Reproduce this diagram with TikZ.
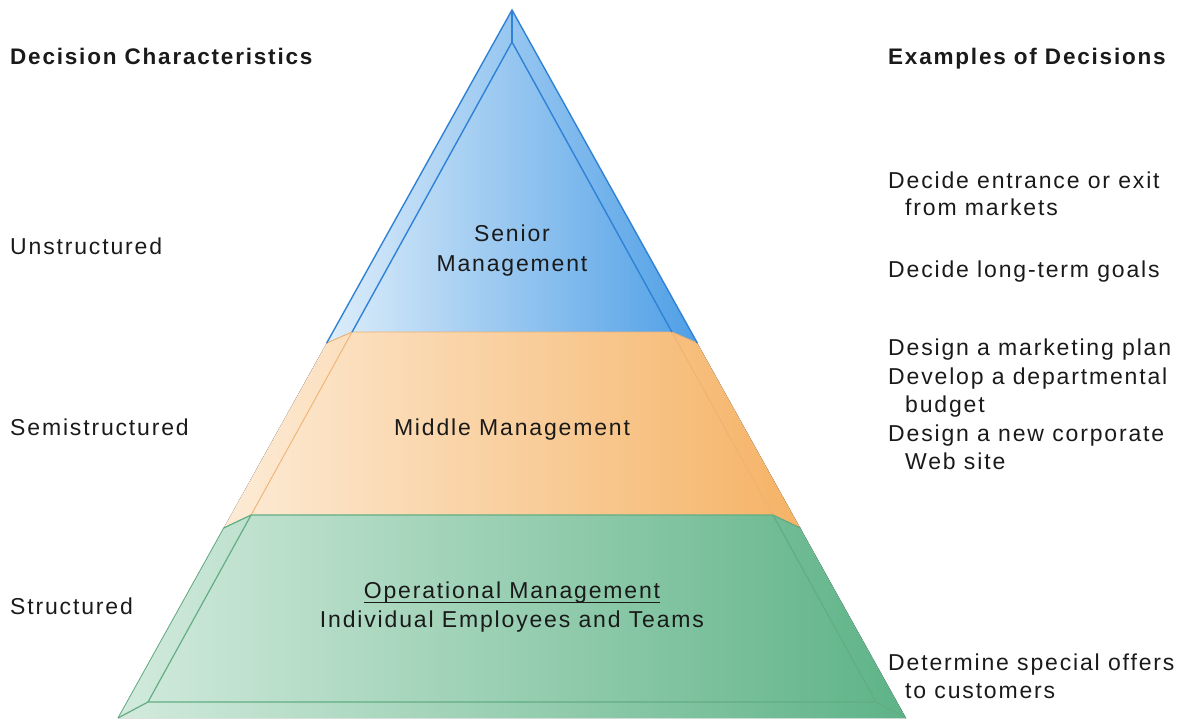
\documentclass[tikz,border=0pt]{standalone}
\usepackage{fontspec}
\setmainfont{Liberation Sans}[LetterSpace=8]
\definecolor{blueL}{HTML}{DDEDFA}
\definecolor{blueR}{HTML}{4F9FE6}
\definecolor{blueLine}{HTML}{2F82D6}
\definecolor{orL}{HTML}{FDEBD6}
\definecolor{orR}{HTML}{F5B366}
\definecolor{orLine}{HTML}{EFB273}
\definecolor{grL}{HTML}{D2EADC}
\definecolor{grR}{HTML}{5EB387}
\definecolor{grLine}{HTML}{62AD84}
\definecolor{ink}{HTML}{1A1A1A}
\tikzset{
  txt/.style={inner sep=0pt, anchor=base west, text=ink, font=\fontsize{23}{29}\selectfont},
  ctxt/.style={txt, anchor=base},
  head/.style={txt, font=\fontsize{22.5}{29}\selectfont\bfseries},
  bluetier/.style={left color=blueL, right color=blueR, draw=none},
  ortier/.style={left color=orL, right color=orR, draw=none},
  grtier/.style={left color=grL, right color=grR, draw=none},
  blueedge/.style={draw=blueLine, line width=1.4pt},
  oredge/.style={draw=orLine, line width=0.9pt},
  gredge/.style={draw=grLine, line width=1.2pt}
}
\begin{document}
\begin{tikzpicture}[x=1pt,y=-1pt]
\useasboundingbox (0,0) rectangle (1182,720);
% key points
\coordinate (A) at (512,10);
\coordinate (a) at (512,42);
\coordinate (o1l) at (326.7,343);
\coordinate (o1r) at (697.3,343);
\coordinate (i1l) at (352.1,332);
\coordinate (i1r) at (671.9,332);
\coordinate (o2l) at (223.7,528);
\coordinate (o2r) at (800.3,528);
\coordinate (i2l) at (251.1,515);
\coordinate (i2r) at (772.9,515);
\coordinate (o3l) at (118,718);
\coordinate (o3r) at (906,718);
\coordinate (i3l) at (148,702);
\coordinate (i3r) at (876,702);
% tiers
\fill[bluetier] (A) -- (o1l) -- (i1l) -- (i1r) -- (o1r) -- cycle;
\fill[ortier] (o1l) -- (i1l) -- (i1r) -- (o1r) -- (o2r) -- (i2r) -- (i2l) -- (o2l) -- cycle;
\fill[grtier] (o2l) -- (i2l) -- (i2r) -- (o2r) -- (o3r) -- (o3l) -- cycle;
% edges
\draw[oredge] (i1l) -- (i2l);
\draw[oredge] (i1r) -- (i2r);
\draw[oredge] (o1l) -- (i1l) -- (i1r) -- (o1r);
\draw[gredge] (o2l) -- (i2l) -- (i2r) -- (o2r);
\draw[gredge] (i2l) -- (i3l) -- (i3r) -- (i2r);
\draw[gredge] (i3l) -- (o3l);
\draw[gredge] (i3r) -- (o3r);
\draw[gredge, line width=0.8pt] (o2l) -- (o3l);
\draw[blueedge] (o1l) -- (A) -- (o1r);
\draw[blueedge] (i1l) -- (a) -- (i1r);
\draw[blueedge] (A) -- (a);
% headings
\node[head] (hl) at (10,64) {Decision Characteristics};
\node[head] (hr) at (888,64) {Examples of Decisions};
% characteristics
\node[txt] (c1) at (10,254) {Unstructured};
\node[txt] (c2) at (10,435) {Semistructured};
\node[txt] (c3) at (10,614) {Structured};
% tier labels
\node[ctxt] (s1) at (512,241) {Senior};
\node[ctxt] (s2) at (512,271) {Management};
\node[ctxt] (m1) at (512,435) {Middle Management};
\node[ctxt] (op) at (512,598) {Operational Management};
\node[ctxt] (op2) at (512,627) {Individual Employees and Teams};
\draw[ink, line width=1.2pt] ([yshift=-4.5pt]op.base west) -- ([yshift=-4.5pt]op.base east);
% examples
\node[txt] (e1) at (888,188) {Decide entrance or exit};
\node[txt] (e1b) at (905,215) {from markets};
\node[txt] (e2) at (888,277) {Decide long-term goals};
\node[txt] (e3) at (888,355) {Design a marketing plan};
\node[txt] (e4) at (888,384) {Develop a departmental};
\node[txt] (e4b) at (905,412) {budget};
\node[txt] (e5) at (888,441) {Design a new corporate};
\node[txt] (e5b) at (905,469) {Web site};
\node[txt] (e6) at (888,670) {Determine special offers};
\node[txt] (e6b) at (905,698) {to customers};
\end{tikzpicture}
\end{document}
